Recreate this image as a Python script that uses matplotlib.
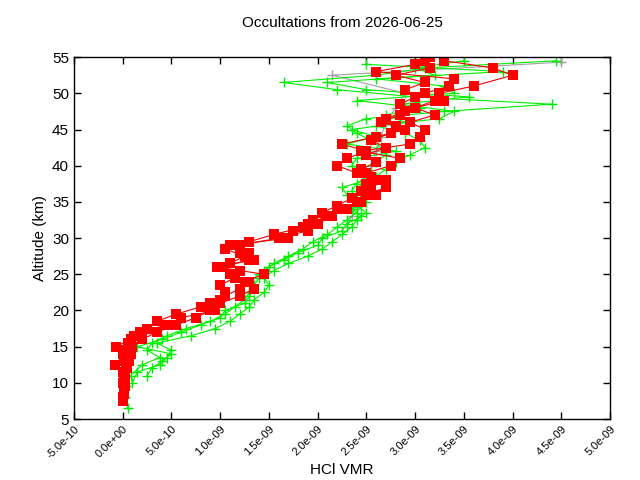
"""
HCl VMR profiles from occultations (gnuplot-like look).
"""

import matplotlib
matplotlib.use("Agg")
import numpy as np
import matplotlib.pyplot as plt
from matplotlib.ticker import FormatStrFormatter

plt.rcParams["font.family"] = ["Liberation Sans", "DejaVu Sans"]

# values in units of 1e-9
red_a_alt = [7.5, 8.5, 9.5, 10.5, 11.5, 12.5, 13.5, 14.5, 15.5, 16.5, 17.5, 18.5,
             19.5, 20.5, 21.5, 22.5, 23.5, 24.5, 25.5, 26.5, 27.5, 28.5, 29.5, 30.5,
             31.5, 32.5, 33.5, 34.5, 35.5, 36.5, 37.5, 38.5, 39.5, 40.5, 41.5, 42.5,
             43.5, 44.5, 45.5, 46.5, 47.5, 48.5, 49.5, 50.5, 51.5, 52.5, 53.5, 54.5]
red_a_vmr = [0.00, 0.01, 0.02, 0.01, 0.00, -0.08, 0.02, 0.03, 0.05, 0.12, 0.25, 0.35,
             0.55, 0.80, 1.00, 1.05, 1.00, 1.15, 1.20, 1.10, 1.25, 1.05, 1.30, 1.55,
             1.85, 1.95, 2.05, 2.20, 2.35, 2.45, 2.50, 2.55, 2.45, 2.60, 2.50, 2.70,
             2.55, 2.75, 2.80, 2.70, 2.90, 2.85, 3.00, 2.90, 3.10, 2.80, 3.15, 3.10]

red_b_alt = [8.0, 9.0, 10.0, 11.0, 12.0, 13.0, 14.0, 15.0, 16.0, 17.0, 18.0, 19.0,
             20.0, 21.0, 22.0, 23.0, 24.0, 25.0, 26.0, 27.0, 28.0, 29.0, 30.0, 31.0,
             32.0, 33.0, 34.0, 35.0, 36.0, 37.0, 38.0, 39.0, 40.0, 41.0, 42.0, 43.0,
             44.0, 45.0, 46.0, 47.0, 48.0, 49.0, 50.0, 51.0, 52.0, 53.0, 54.0, 55.0]
red_b_vmr = [0.00, 0.01, 0.00, 0.02, 0.03, 0.01, 0.00, -0.07, 0.08, 0.18, 0.45, 0.60,
             0.95, 0.90, 1.05, 1.20, 1.30, 1.10, 1.00, 1.30, 1.20, 1.10, 1.70, 1.75,
             1.90, 2.10, 2.30, 2.40, 2.50, 2.70, 2.60, 2.40, 2.20, 2.30, 2.50, 2.25,
             2.60, 2.90, 2.65, 2.85, 3.00, 3.20, 3.10, 3.35, 3.40, 2.60, 3.00, 3.15]

red_c_alt = [12.0, 13.0, 14.0, 15.0, 16.0, 17.0, 18.0, 19.0, 20.0, 21.0, 22.0, 23.0,
             24.0, 25.0, 26.0, 27.0, 28.0, 29.0, 30.0, 31.0, 32.0, 33.0, 34.0, 35.0,
             36.0, 37.0, 38.0, 39.0, 40.0, 41.0, 42.0, 43.0, 44.0, 45.0, 46.0, 47.0,
             48.0, 49.0, 50.0, 51.0, 52.5, 53.5, 54.5]
red_c_vmr = [0.04, 0.06, 0.08, 0.10, 0.20, 0.35, 0.55, 0.75, 0.90, 1.00, 1.20, 1.35,
             1.25, 1.45, 0.97, 1.35, 1.30, 1.20, 1.60, 1.90, 2.00, 2.15, 2.25, 2.45,
             2.60, 2.55, 2.70, 2.50, 2.75, 2.85, 2.45, 2.95, 3.05, 3.10, 2.95, 3.20,
             3.00, 3.30, 3.25, 3.60, 4.00, 3.80, 3.30]

green_a_alt = [6.5, 8.0, 9.5, 11.0, 12.5, 13.5, 14.5, 15.5, 16.5, 17.5, 18.5, 19.5,
               20.5, 21.5, 22.5, 23.5, 24.5, 25.5, 26.5, 27.5, 28.5, 29.5, 30.5, 31.5,
               32.5, 33.5, 34.5, 35.5, 36.5, 37.5, 38.5, 39.5, 40.5, 41.5, 42.5, 43.5,
               44.5, 45.5, 46.5, 47.5, 48.5, 49.5, 50.5, 51.5, 52.5, 53.5, 54.5]
green_a_vmr = [0.05, 0.02, 0.03, 0.08, 0.20, 0.38, 0.25, 0.30, 0.45, 0.65, 0.90, 1.05,
               1.15, 1.25, 1.30, 1.35, 1.40, 1.45, 1.55, 1.70, 1.85, 1.95, 2.10, 2.20,
               2.30, 2.40, 2.45, 2.40, 2.35, 2.40, 2.50, 2.45, 2.60, 2.70, 2.65, 2.55,
               2.40, 2.30, 2.50, 3.30, 4.40, 3.00, 2.20, 1.65, 2.60, 3.10, 4.45]

green_b_alt = [10.0, 11.5, 12.5, 13.5, 14.5, 15.5, 16.5, 17.5, 18.5, 19.5, 20.5, 21.5,
               22.5, 23.5, 24.5, 25.5, 26.5, 27.5, 28.5, 29.5, 30.5, 31.5, 32.5, 33.5,
               34.5, 35.5, 36.5, 37.5, 38.5, 39.5, 40.5, 41.5, 42.5, 43.5, 44.5, 45.5,
               46.5, 47.5, 48.5, 49.5, 50.5, 51.5, 52.5, 53.5, 54.5]
green_b_vmr = [0.10, 0.15, 0.38, 0.45, 0.50, 0.35, 0.70, 0.95, 1.10, 1.20, 1.30, 1.35,
               1.45, 1.50, 1.45, 1.55, 1.70, 1.90, 2.05, 2.15, 2.25, 2.35, 2.40, 2.50,
               2.40, 2.50, 2.55, 2.45, 2.60, 2.70, 2.80, 2.95, 3.10, 3.05, 2.90, 2.60,
               3.25, 3.40, 2.85, 3.55, 2.50, 2.10, 3.20, 3.00, 3.50]

green_c_alt = [11.0, 12.0, 13.0, 14.0, 15.0, 16.0, 17.0, 18.0, 19.0, 20.0, 21.0, 22.0,
               23.0, 24.0, 25.0, 26.0, 27.0, 28.0, 29.0, 30.0, 31.0, 32.0, 33.0, 34.0,
               35.0, 36.0, 37.0, 38.0, 39.0, 40.0, 41.0, 42.0, 43.0, 44.0, 45.0, 46.0,
               47.0, 48.0, 49.0, 50.0, 51.0, 52.0, 53.0, 54.0]
green_c_vmr = [0.25, 0.30, 0.40, 0.50, 0.15, 0.40, 0.60, 0.80, 1.00, 1.05, 1.25, 1.30,
               1.35, 1.30, 1.40, 1.50, 1.65, 1.80, 2.00, 2.05, 2.25, 2.30, 2.45, 2.35,
               2.50, 2.30, 2.25, 2.50, 2.55, 2.35, 2.40, 2.80, 2.30, 2.60, 2.35, 2.90,
               2.70, 3.05, 2.40, 3.40, 3.30, 2.60, 3.90, 2.50]

gray_alt = [31.5, 33.0, 34.5, 36.0, 38.0, 40.0, 42.0, 44.0, 46.0, 48.0, 50.0, 52.5, 54.3]
gray_vmr = [2.30, 2.35, 2.40, 2.45, 2.50, 2.55, 2.60, 2.65, 2.70, 2.80, 2.90, 2.15, 4.50]

green_sets = [(green_a_alt, green_a_vmr), (green_b_alt, green_b_vmr),
              (green_c_alt, green_c_vmr)]
red_sets = [(red_a_alt, red_a_vmr), (red_b_alt, red_b_vmr), (red_c_alt, red_c_vmr)]

fig = plt.figure(figsize=(6.4, 4.8), dpi=100)
ax = fig.add_axes([0.1156, 0.127, 0.8375, 0.754])

ax.plot(np.array(gray_vmr) * 1e-9, gray_alt, color="#a0a0a0", lw=0.8,
        marker="+", ms=7, mew=1.0)
for alt, vmr in green_sets:
    ax.plot(np.array(vmr) * 1e-9, alt, color="#00ee00", lw=0.8,
            marker="+", ms=7, mew=1.0)
for alt, vmr in red_sets:
    ax.plot(np.array(vmr) * 1e-9, alt, color="#ee0000", lw=0.8,
            marker="s", ms=6.5, mew=0, mfc="#ff0000")

ax.set_xlim(-5e-10, 5e-9)
ax.set_ylim(5, 55)
ax.set_xticks(np.arange(-5e-10, 5.01e-9, 5e-10))
ax.set_yticks(np.arange(5, 56, 5))
ax.xaxis.set_major_formatter(FormatStrFormatter("%.1e"))
ax.tick_params(direction="in", top=True, right=True, length=5, width=1)
ax.tick_params(axis="y", labelsize=11)
ax.tick_params(axis="x", labelsize=8)
for lab in ax.get_xticklabels():
    lab.set_rotation(45)
    lab.set_ha("right")
    lab.set_va("top")
    lab.set_rotation_mode("anchor")
for s in ax.spines.values():
    s.set_linewidth(1)

ax.set_xlabel("HCl VMR", fontsize=11, labelpad=2)
ax.set_ylabel("Altitude (km)", fontsize=11)
ax.set_title("Occultations from 2026-06-25", fontsize=11, pad=22)

fig.savefig("out.png", dpi=100)
